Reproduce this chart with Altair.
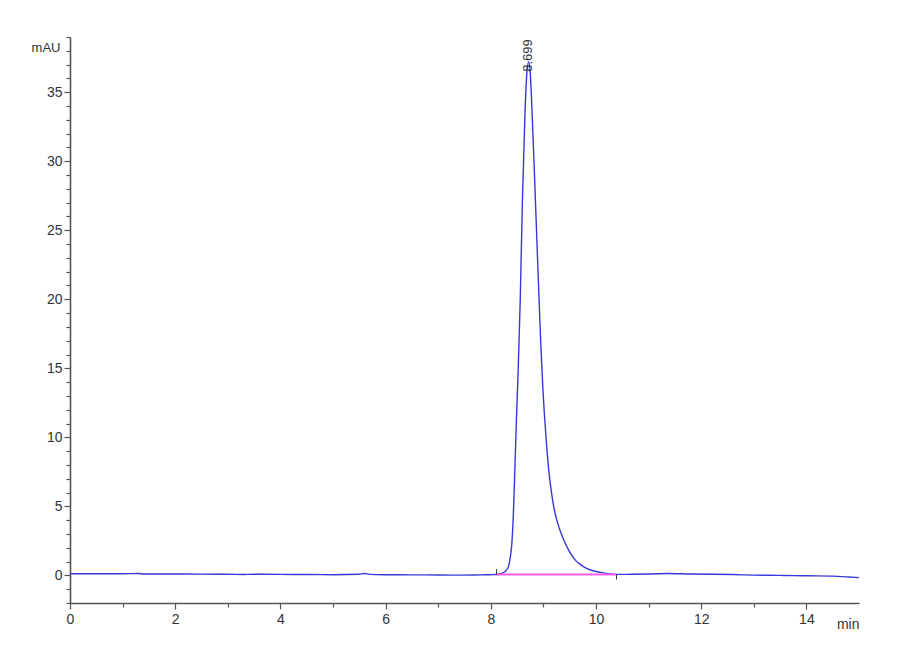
import altair as alt
import pandas as pd

# Chromatogram trace (time in min, absorbance in mAU)
time_min = [0.0, 0.5, 1.0, 1.3, 1.4, 2.0, 2.5, 3.0, 3.3, 3.5, 4.0, 4.5, 5.0, 5.5, 5.6, 5.7,
            6.0, 6.5, 7.0, 7.5, 7.8, 8.0, 8.1, 8.17, 8.24, 8.29, 8.333, 8.37, 8.40, 8.43,
            8.46, 8.49, 8.52, 8.56, 8.60, 8.65, 8.69, 8.72, 8.75, 8.78, 8.84, 8.90, 8.95,
            8.99, 9.02, 9.06, 9.10, 9.15, 9.20, 9.27, 9.35, 9.45, 9.54, 9.62, 9.70, 9.82,
            10.0, 10.14, 10.39, 10.7, 11.0, 11.35, 11.8, 12.2, 12.6, 13.0, 13.5, 14.0,
            14.5, 14.8, 15.0]
signal_mau = [0.12, 0.12, 0.12, 0.14, 0.10, 0.10, 0.09, 0.08, 0.06, 0.08, 0.07, 0.06, 0.05,
              0.08, 0.14, 0.07, 0.05, 0.04, 0.03, 0.02, 0.04, 0.05, 0.06, 0.10, 0.20, 0.35,
              0.60, 1.3, 2.3, 4.5, 8.0, 11.6, 14.8, 20.0, 27.0, 33.5, 36.6, 37.2, 36.4,
              34.0, 28.0, 21.8, 16.8, 13.5, 11.6, 9.5, 7.7, 6.1, 4.9, 3.8, 2.9, 2.05, 1.45,
              1.05, 0.8, 0.5, 0.28, 0.18, 0.07, 0.08, 0.10, 0.14, 0.10, 0.08, 0.06, 0.02,
              0.0, -0.03, -0.05, -0.12, -0.16]

# Integration baseline
base_t = [8.11, 10.39]
base_v = [0.06, 0.06]
# Integration start / end markers
mark_t = [8.11, 10.39]
mark_v0 = [0.06, 0.06]
mark_v1 = [0.45, -0.30]

# Peak annotation
peak_t = [8.699]
peak_v = [37.2]
peak_label = ["8.699"]

# Axis ticks (major labelled, minor unlabelled)
x_ticks = [v / 2 for v in range(0, 30)]
y_ticks = list(range(-2, 40))

trace = pd.DataFrame({"t": time_min, "v": signal_mau})
base = pd.DataFrame({"t": base_t, "v": base_v})
marks = pd.DataFrame({"t": mark_t, "v0": mark_v0, "v1": mark_v1})
peak = pd.DataFrame({"t": peak_t, "v": peak_v, "label": peak_label})

FONT = "Liberation Sans"
AX = "#555555"

xs = alt.Scale(domain=[0, 15], nice=False, zero=False)
ys = alt.Scale(domain=[-2, 39], nice=False, zero=False)

x_major = "datum.value % 2 === 0"
y_major = "datum.value % 5 === 0 && datum.value >= 0"

main_x = alt.X("t:Q", scale=xs, axis=alt.Axis(
    values=x_ticks, tickCount=200, format="d", orient="bottom", grid=False,
    tickSize={"condition": {"test": x_major, "value": 6}, "value": 4},
    labelExpr=f"{x_major} ? datum.label : ''",
    tickWidth=1.2, tickColor=AX, domainColor=AX, domainWidth=1.6,
    labelFont=FONT, labelFontSize=14, labelColor="#333", labelPadding=3,
    labelOverlap=False, labelFlush=False,
    title="min", titleFont=FONT, titleFontSize=14, titleFontWeight="normal",
    titleColor="#333", titleX=789, titleY=25, titleAlign="right", titleBaseline="alphabetic"))
main_y = alt.Y("v:Q", scale=ys, axis=alt.Axis(
    values=y_ticks, tickCount=200, format="d", orient="left", grid=False,
    tickSize={"condition": {"test": y_major, "value": 6}, "value": 4},
    labelExpr=f"{y_major} ? datum.label : ''",
    tickWidth=1.2, tickColor=AX, domainColor=AX, domainWidth=1.6,
    labelFont=FONT, labelFontSize=14, labelColor="#333", labelPadding=2,
    labelOverlap=False, labelFlush=False,
    title="mAU", titleFont=FONT, titleFontSize=13, titleFontWeight="normal",
    titleColor="#333", titleAngle=0, titleX=-10, titleY=14, titleAlign="right",
    titleBaseline="alphabetic"))

line = alt.Chart(trace).mark_line(color="#3838d8", strokeWidth=1.4, interpolate="monotone").encode(
    x=main_x, y=main_y)

baseline = alt.Chart(base).mark_line(color="#ff5cf0", strokeWidth=2).encode(
    x=alt.X("t:Q", scale=xs), y=alt.Y("v:Q", scale=ys))

markers = alt.Chart(marks).mark_rule(color="#333", strokeWidth=1).encode(
    x=alt.X("t:Q", scale=xs), y=alt.Y("v0:Q", scale=ys), y2="v1:Q")

label = alt.Chart(peak).mark_text(angle=270, align="left", baseline="middle", dx=-10,
                                  font=FONT, fontSize=13, color="#333").encode(
    x=alt.X("t:Q", scale=xs), y=alt.Y("v:Q", scale=ys), text="label:N")

chart = alt.layer(line, baseline, markers, label).properties(
    width=789, height=566, autosize=alt.AutoSizeParams(type="none"),
    padding={"left": 62, "top": 29, "right": 10, "bottom": 40},
    background="white").configure_view(stroke=None)

chart.save("out.html", embed_options={"renderer": "svg", "actions": False})
